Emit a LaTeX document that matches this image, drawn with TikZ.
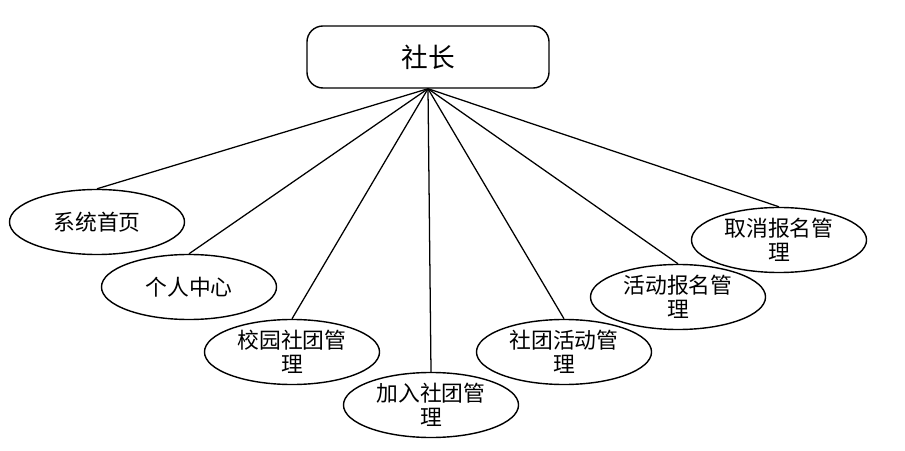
\documentclass[tikz,border=0pt]{standalone}
\usepackage{fontspec}
\newfontfamily\cjk{Noto Sans CJK SC}
\usetikzlibrary{shapes,positioning}

\begin{document}
\begin{tikzpicture}[
    x=0.025cm, y=-0.025cm,
    font=\cjk,
    role/.style={draw=black, line width=1pt, rounded corners=0.4cm, minimum width=6.05cm, minimum height=1.55cm, font=\cjk\fontsize{19}{22}\selectfont},
    func/.style={ellipse, draw=black, line width=1pt, minimum width=4.375cm, minimum height=1.625cm, inner sep=0pt, align=center, font=\cjk\fontsize{15.5}{17}\selectfont},
    link/.style={draw=black, line width=0.9pt}
]

    % Frame
    \useasboundingbox (0,0) rectangle (905,451);

    % Role
    \node[role] (boss) at (428,57) {社长};

    % Functions
    \node[func] (home) at (97,222) {系统首页};
    \node[func] (self) at (189,287) {个人中心};
    \node[func] (campus) at (292,352) {校园社团管\\理};
    \node[func] (join) at (431,405) {加入社团管\\理};
    \node[func] (activity) at (564,352) {社团活动管\\理};
    \node[func] (signup) at (678,297) {活动报名管\\理};
    \node[func] (cancel) at (779,240) {取消报名管\\理};

    % Links
    \foreach \f in {home,self,campus,join,activity,signup,cancel} {
        \draw[link] (boss.south) -- (\f.north);
    }

\end{tikzpicture}
\end{document}
